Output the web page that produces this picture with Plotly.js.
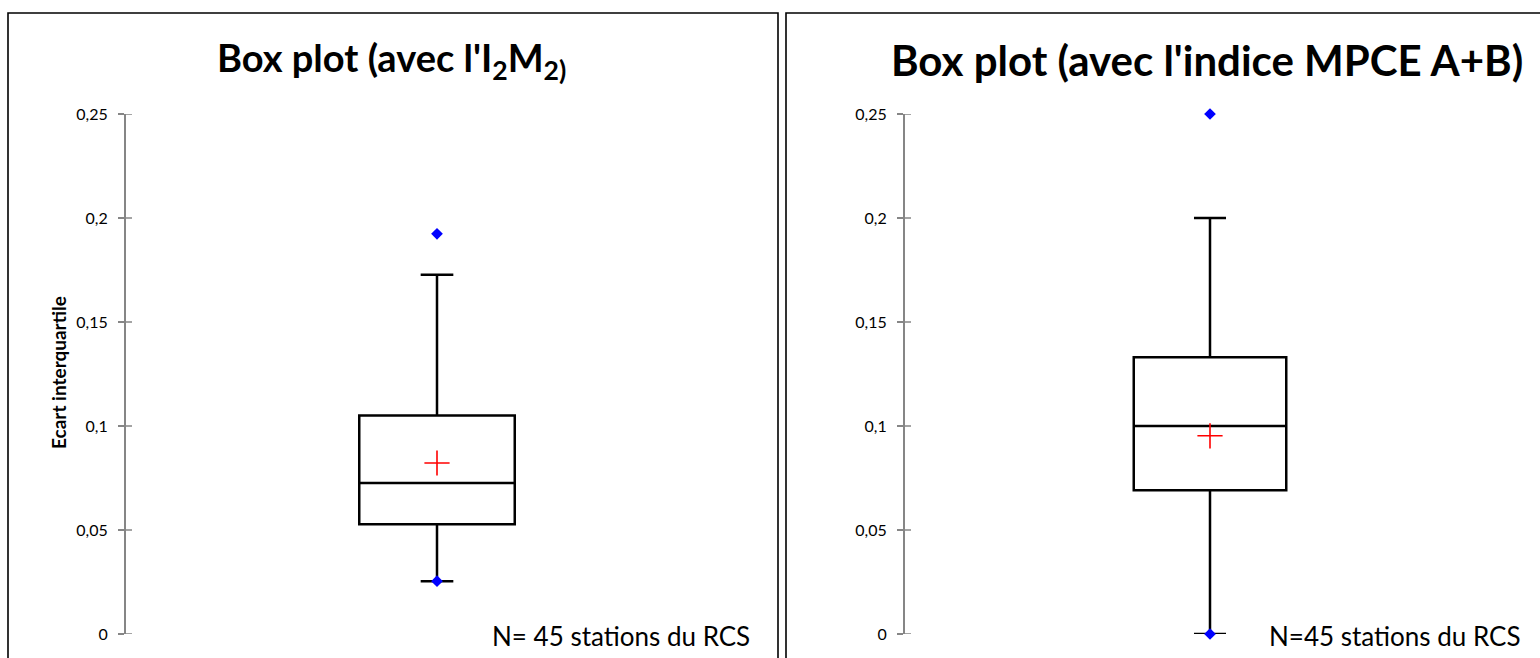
<!DOCTYPE html>
<html>
<head>
<meta charset="utf-8">
<script src="https://cdn.plot.ly/plotly-3.0.1.min.js"></script>
<style>html,body{margin:0;padding:0;background:#fff;}#chart{width:1540px;height:658px;}</style>
</head>
<body>
<div id="chart"></div>
<script>
// ---- data ----
const categories = ["I2M2", "MPCE A+B"];
const titles = ["Box plot (avec l'I<sub>2</sub>M<sub>2)</sub>", "Box plot (avec l'indice MPCE A+B)"];
const nLabels = ["N= 45 stations du RCS", "N=45 stations du RCS"];
const q1 = [0.0528, 0.0691];
const median = [0.0726, 0.1];
const q3 = [0.1051, 0.133];
const lowerWhisker = [0.0254, 0];
const upperWhisker = [0.1727, 0.2];
const means = [0.0822, 0.0953];
const minVals = [0.0254, 0];
const maxVals = [0.1924, 0.25];
const tickVals = [0, 0.05, 0.1, 0.15, 0.2, 0.25];
const tickText = ["0", "0,05", "0,1", "0,15", "0,2", "0,25"];
const yTitle = "Ecart interquartile";

// ---- layout helpers ----
const W = 1540, H = 658;
const px = v => v / W;
const py = v => 1 - v / H;
const FONT = "Lato, 'Open Sans', sans-serif";

const xDomains = [[126, 748], [905, 1515]];
const yDomain = [py(634), py(114)];

const traces = [];
categories.forEach((c, i) => {
  const xa = i === 0 ? 'x' : 'x2';
  const ya = i === 0 ? 'y' : 'y2';
  traces.push({
    type: 'box', name: c, x: [0],
    q1: [q1[i]], median: [median[i]], q3: [q3[i]],
    lowerfence: [lowerWhisker[i]], upperfence: [upperWhisker[i]],
    boxpoints: false, width: 0.5, whiskerwidth: 0.21,
    fillcolor: 'rgba(255,255,255,1)', line: {color: '#000', width: 2.5},
    xaxis: xa, yaxis: ya, showlegend: false, hoverinfo: 'y'
  });
  traces.push({
    type: 'scatter', mode: 'markers', x: [0, 0], y: [minVals[i], maxVals[i]],
    marker: {symbol: 'diamond', size: 9, color: '#0000ff'},
    xaxis: xa, yaxis: ya, showlegend: false, cliponaxis: false
  });
  traces.push({
    type: 'scatter', mode: 'markers', x: [0], y: [means[i]],
    marker: {symbol: 'cross-thin', size: 18, color: '#ff0000', line: {color: '#ff0000', width: 1.6}},
    xaxis: xa, yaxis: ya, showlegend: false
  });
});

const xCommon = {range: [-1, 1], showline: false, showticklabels: false, showgrid: false, zeroline: false, fixedrange: true};
const yCommon = {
  range: [0, 0.25], domain: yDomain, showline: true, linecolor: '#868686', linewidth: 2,
  ticks: 'outside', ticklen: 6, tickwidth: 1.5, tickcolor: '#868686',
  tickvals: tickVals, ticktext: tickText, showgrid: false, zeroline: false,
  tickfont: {family: FONT, size: 16, color: '#000'}, ticklabelstandoff: 7
};

const annotations = [];
const titleSizes = [38, 42];
titles.forEach((t, i) => {
  annotations.push({
    xref: 'paper', yref: 'paper', x: px(i === 0 ? 392 : 1207), y: py(60),
    xanchor: 'center', yanchor: 'middle', showarrow: false, text: '<b>' + t + '</b>',
    font: {family: FONT, size: titleSizes[i], color: '#000'}
  });
});
annotations.push({
  xref: 'paper', yref: 'paper', x: px(752), y: py(636), xanchor: 'right', yanchor: 'middle',
  showarrow: false, text: nLabels[0], font: {family: FONT, size: 26, color: '#000'}
});
annotations.push({
  xref: 'paper', yref: 'paper', x: px(1523), y: py(636), xanchor: 'right', yanchor: 'middle',
  showarrow: false, text: nLabels[1], font: {family: FONT, size: 26, color: '#000'}
});
annotations.push({
  xref: 'paper', yref: 'paper', x: px(59), y: py(373), xanchor: 'center', yanchor: 'middle',
  textangle: -90, showarrow: false, text: '<b>' + yTitle + '</b>',
  font: {family: FONT, size: 19, color: '#000'}
});

// panel frames
const shapes = [
  {type: 'rect', xref: 'paper', yref: 'paper', x0: px(8), x1: px(778), y0: -0.2, y1: py(13), line: {color: '#000', width: 1.6}},
  {type: 'rect', xref: 'paper', yref: 'paper', x0: px(786), x1: 1.2, y0: -0.2, y1: py(13), line: {color: '#000', width: 1.6}}
];
// inner half of the crossing tick marks (Excel style "cross" ticks)
['y', 'y2'].forEach((yr, i) => {
  tickVals.forEach(v => {
    shapes.push({type: 'line', xref: 'paper', yref: yr, x0: px(xDomains[i][0]), x1: px(xDomains[i][0] + 6),
      y0: v, y1: v, line: {color: '#868686', width: 1.5}});
  });
});

const layout = {
  width: W, height: H, margin: {l: 0, r: 0, t: 0, b: 0},
  paper_bgcolor: '#fff', plot_bgcolor: 'rgba(0,0,0,0)', showlegend: false,
  xaxis: Object.assign({}, xCommon, {domain: [px(xDomains[0][0]), px(xDomains[0][1])], anchor: 'y'}),
  xaxis2: Object.assign({}, xCommon, {domain: [px(xDomains[1][0]), px(xDomains[1][1])], anchor: 'y2'}),
  yaxis: Object.assign({}, yCommon, {anchor: 'x'}),
  yaxis2: Object.assign({}, yCommon, {anchor: 'x2'}),
  annotations: annotations,
  shapes: shapes
};

Plotly.newPlot('chart', traces, layout, {displayModeBar: false, staticPlot: true});
</script>
</body>
</html>
